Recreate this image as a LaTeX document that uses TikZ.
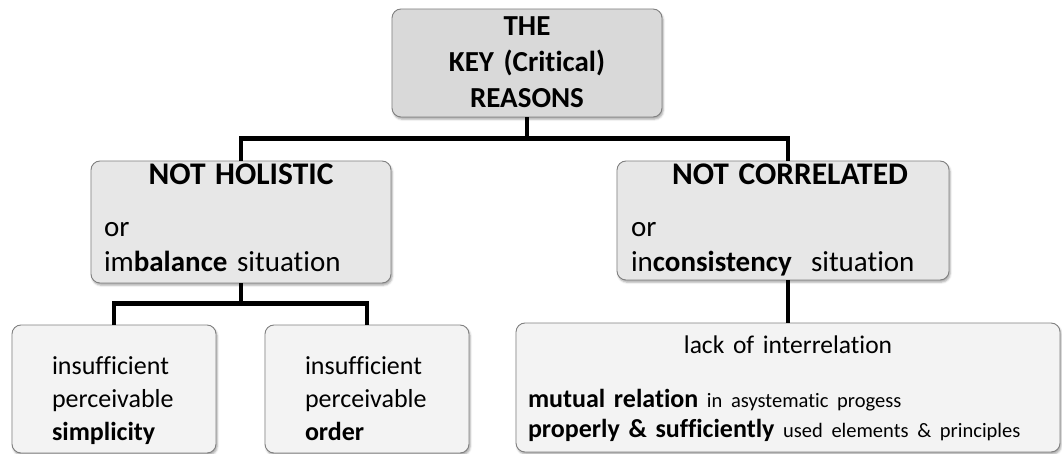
\documentclass[tikz,border=0pt]{standalone}
\usepackage{fontspec}
\setmainfont{Carlito}[Ligatures={NoCommon,NoContextual}]
\usetikzlibrary{shadows.blur}
\definecolor{keygray}{RGB}{217,217,217}
\definecolor{midgray}{RGB}{231,231,231}
\definecolor{leafgray}{RGB}{243,243,243}
\definecolor{edgegray}{RGB}{128,128,128}
\newcommand{\headsize}{\fontsize{31.5}{35}\selectfont\bfseries}
\newcommand{\notesize}{\fontsize{20.5}{30}\selectfont}

\begin{document}
\begin{tikzpicture}[x=1pt,y=-1pt,
  box/.style={rectangle,rounded corners=9pt,draw=edgegray,line width=0.9pt,inner ysep=0pt,
    blur shadow={shadow xshift=1.2pt,shadow yshift=-2.2pt,shadow blur radius=2pt,shadow opacity=35}},
  key node/.style={box,fill=keygray,align=center,text width=250pt,inner xsep=10pt,
    font=\fontsize{29}{36}\selectfont\bfseries,text height=27pt,text depth=81pt},
  mid node/.style={box,fill=midgray,align=left,inner xsep=13pt,
    font=\fontsize{29}{35}\selectfont,text height=24pt,text depth=98pt},
  leaf node/.style={box,fill=leafgray,align=left,text width=124pt,inner xsep=40pt,
    font=\fontsize{26}{33}\selectfont,text height=49pt,text depth=79pt},
  link/.style={line width=4.8pt}]
  \useasboundingbox (0,0) rectangle (1062,454);

  \node[key node] (key) at (527,63) {THE\\KEY (Critical)\\REASONS};
  \node[mid node,text width=274pt] (holistic) at (241,222)
    {{\centering\headsize NOT HOLISTIC\par}\vspace{17pt}or\\im\textbf{balance} situation};
  \node[mid node,text width=304pt,inner xsep=14pt,text depth=95pt] (correlated) at (783,220.5)
    {{\centering\headsize\hspace*{14pt}NOT CORRELATED\par}\vspace{17pt}or\\in\textbf{consistency}\ \ situation};
  \node[leaf node] (simplicity) at (114,389) {insufficient\\perceivable\\\textbf{simplicity}};
  \node[leaf node] (order) at (367,389) {insufficient\\perceivable\\\textbf{order}};
  \node[leaf node,text width=520pt,inner xsep=12pt,text height=30pt,text depth=99pt,
    font=\fontsize{26}{30}\selectfont] (lack) at (788,387.5)
    {{\centering\fontsize{25.5}{30}\selectfont lack of interrelation\par}\vspace{24pt}\textbf{mutual relation} {\notesize in asystematic progess}\\
     \textbf{properly \& sufficiently} {\notesize used elements \& principles}};

  % connectors
  \coordinate (topbar) at ([yshift=-21pt]key.south);
  \coordinate (lowbar) at ([yshift=-20pt]holistic.south);
  \draw[link] (key.south) -- (topbar);
  \draw[link] (holistic.north) |- (topbar) -| (lack.north |- correlated.north);
  \draw[link] (holistic.south) -- (lowbar);
  \draw[link] (simplicity.north) |- (lowbar) -| (order.north);
  \draw[link] (correlated.south -| lack.north) -- (lack.north);
\end{tikzpicture}
\end{document}
